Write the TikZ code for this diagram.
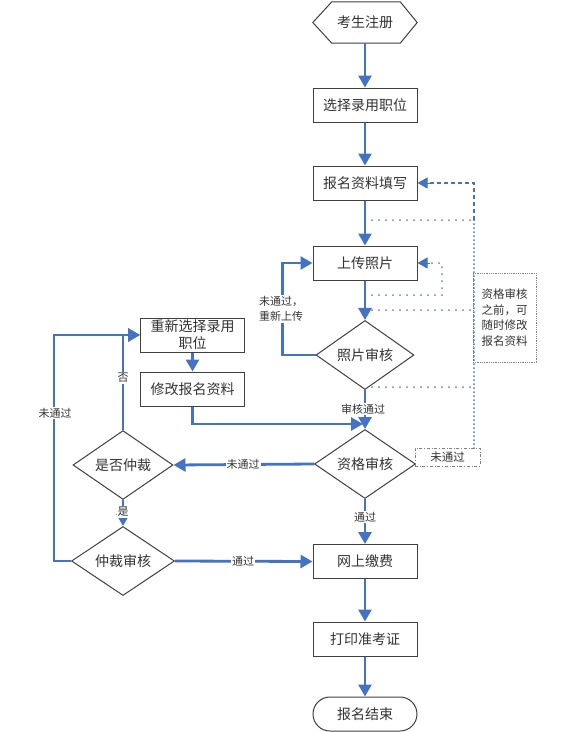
\documentclass[tikz,border=0pt]{standalone}
\usepackage{fontspec}
\newfontfamily\cjk{Noto Sans CJK SC}
\usetikzlibrary{shapes.geometric,arrows.meta}
\definecolor{flow}{HTML}{4472C4}
\definecolor{edge}{HTML}{404040}
\definecolor{txt}{HTML}{333333}
\definecolor{dots}{HTML}{6A82B0}
\begin{document}
\begin{tikzpicture}[x=1pt,y=-1pt,
 every node/.style={font=\cjk, text=txt},
 box/.style={draw=edge, line width=1pt, minimum width=104pt, minimum height=34pt, inner sep=0pt, font=\cjk\fontsize{14}{17}\selectfont},
 dia/.style={diamond, draw=edge, line width=1pt, inner sep=0pt, minimum width=100pt, minimum height=51pt, font=\cjk\fontsize{14}{16}\selectfont},
 flowarrow/.style={draw=flow, line width=2.8pt, -{Triangle[length=12pt,width=13pt]}},
 lbl/.style={fill=white, inner sep=1pt, font=\cjk\fontsize{11}{15}\selectfont},
 dotline/.style={draw=dots, line width=2pt, dash pattern=on 0pt off 7pt, line cap=round},
 vdot/.style={draw=flow, line width=2pt, dash pattern=on 0pt off 4pt, line cap=round},
]
\fill[white] (0,0) rectangle (579,732);
\useasboundingbox (0,0) rectangle (579,732);

% nodes
\node[minimum width=104pt, minimum height=41pt, inner sep=0pt, font=\cjk\fontsize{14}{16}\selectfont] (reg) at (365,22.5) {考生注册};
\draw[edge, line width=1pt] (reg.west) -- ([xshift=19pt]reg.north west) -- ([xshift=-17pt]reg.north east) -- (reg.east) -- ([xshift=-17pt]reg.south east) -- ([xshift=19pt]reg.south west) -- cycle;
\node[box] (sel) at (365,105) {选择录用职位};
\node[box] (fill) at (365,183) {报名资料填写};
\node[box] (up) at (365,263) {上传照片};
\node[dia, minimum width=98pt] (ph) at (365,355) {照片审核};
\node[dia, minimum width=101pt] (qual) at (365,464) {资格审核};
\node[dia] (wh) at (123,465) {是否仲裁};
\node[dia, minimum width=103pt] (arb) at (123,561) {仲裁审核};
\node[box, align=center, font=\cjk\fontsize{14}{17}\selectfont] (resel) at (192.5,335) {重新选择录用\\职位};
\node[box] (mod) at (192.5,389) {修改报名资料};
\node[box] (pay) at (365,561.5) {网上缴费};
\node[box] (print) at (365,639) {打印准考证};
\node[box, rounded corners=17pt] (end) at (365,714) {报名结束};

\node[draw=gray, densely dotted, line width=0.8pt, minimum width=63pt, minimum height=89pt, inner sep=0pt, align=left, font=\cjk\fontsize{11.5}{15.5}\selectfont] (note) at (504.5,317.5) {资格审核\\之前，可\\随时修改\\报名资料};
\node[draw=gray, dash dot, line width=0.8pt, minimum width=65pt, minimum height=18pt, inner sep=0pt, font=\cjk\fontsize{11.5}{14}\selectfont] (np) at (447.5,457) {未通过};

% dotted lines
\coordinate (v0) at (474,448);
\coordinate (v1) at (474,220);
\coordinate (v2) at (474,183);
\coordinate (h1) at (372,220);
\coordinate (h2) at (372,295);
\coordinate (h3) at (442,295);
\coordinate (h4) at (372,310);
\coordinate (h5) at (474,310);
\coordinate (h6) at (372,387);
\coordinate (h7) at (474,387);
\draw[dotline] (h1) -- (v1);
\draw[dotline] (h4) -- (h5);
\draw[dotline] (h6) -- (h7);
\draw[dotline] (h2) -- (h3) |- ([xshift=12pt]up.east);
\draw[draw=flow, -{Triangle[length=10pt,width=11pt]}, line width=1pt] ([xshift=12pt]up.east) -- (up.east);
\draw[vdot] (v0) -- (v1);
\draw[draw=flow, line width=2pt, dash pattern=on 4pt off 3pt] (v1) -- (v2) -- ([xshift=12pt]fill.east);
\draw[draw=flow, -{Triangle[length=10pt,width=11pt]}, line width=1pt] ([xshift=12pt]fill.east) -- (fill.east);

% main flow
\draw[flowarrow] (reg.south) -- (sel.north);
\draw[flowarrow] (sel.south) -- (fill.north);
\draw[flowarrow] (fill.south) -- (up.north);
\draw[flowarrow] (up.south) -- (ph.north);
\draw[flowarrow] (ph.west) -- ++(-33,0) |- (up.west);
\draw[flowarrow] (ph.south) -- (qual.north);
\coordinate (merge) at (363,424);
\draw[flowarrow] (mod.south) |- (merge);
\draw[flowarrow] (qual.west) -- (wh.east);
\draw[flowarrow] (qual.south) -- (pay.north);
\draw[flowarrow] (wh.north) |- (resel.west);
\draw[flowarrow] (arb.west) -- ++(-17,0) |- (resel.west);
\draw[flowarrow] (wh.south) -- (arb.north);
\draw[flowarrow] (arb.east) -- (pay.west);
\draw[flowarrow] (resel.south) -- (mod.north);
\draw[flowarrow] (pay.south) -- (print.north);
\draw[flowarrow] (print.south) -- (end.north);

% labels
\node[lbl, align=center] (l1) at (281,309) {未通过，\\重新上传};
\node[lbl] (l2) at (363,409) {审核通过};
\node[lbl] (l3) at (243,464) {未通过};
\node[lbl] (l4) at (365,517) {通过};
\node[lbl] (l5) at (123,378) {否};
\node[lbl] (l6) at (55,413) {未通过};
\node[lbl] (l7) at (123,512) {是};
\node[lbl] (l8) at (243,561) {通过};
\end{tikzpicture}
\end{document}
